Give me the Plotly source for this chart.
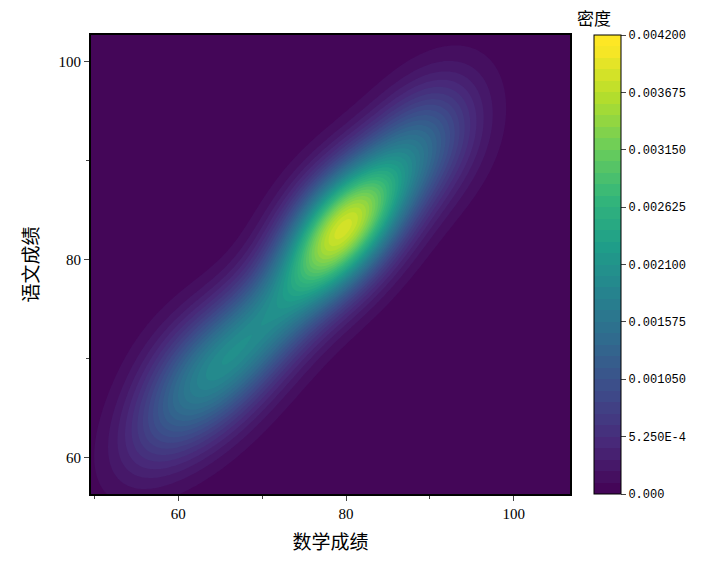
import numpy as np
import plotly.graph_objects as go

# 学生成绩样本（数学, 语文）
math_scores = [58, 60, 62, 63, 65, 66, 67, 68, 69, 70, 72, 73, 74, 75, 76, 77, 78, 78, 79, 80,
               80, 81, 82, 79, 77, 81, 83, 84, 85, 86, 87, 88, 90, 91, 84, 76, 71, 64, 82, 60,
               62, 66, 88, 92, 79, 79, 80, 78, 81, 57]
chinese_scores = [64, 66, 68, 70, 69, 71, 72, 70, 74, 73, 75, 77, 76, 79, 80, 82, 81, 84, 83, 82,
                  85, 84, 86, 80, 85, 81, 87, 88, 86, 89, 91, 90, 92, 94, 84, 78, 72, 67, 83, 70,
                  64, 67, 94, 90, 83, 83, 84, 82, 85, 62]
bandwidth_cov = [[18.0, 8.0], [8.0, 18.0]]

cb_tickvals = [0, 0.000525, 0.00105, 0.001575, 0.0021, 0.002625, 0.00315, 0.003675, 0.0042]
cb_ticktext = ["0.000", "5.250E-4", "0.001050", "0.001575", "0.002100",
               "0.002625", "0.003150", "0.003675", "0.004200"]

# 高斯核密度估计
xs = np.linspace(49.6, 106.7, 200)
ys = np.linspace(56.3, 102.7, 200)
gx, gy = np.meshgrid(xs, ys)
inv = np.linalg.inv(bandwidth_cov)
norm = 1.0 / (2 * np.pi * np.sqrt(np.linalg.det(bandwidth_cov)))
dens = np.zeros_like(gx)
for mx, cy in zip(math_scores, chinese_scores):
    dx, dy = gx - mx, gy - cy
    q = inv[0, 0] * dx * dx + 2 * inv[0, 1] * dx * dy + inv[1, 1] * dy * dy
    dens += norm * np.exp(-0.5 * q)
dens /= len(math_scores)

fig = go.Figure(go.Contour(
    x=xs, y=ys, z=dens,
    colorscale="Viridis", zmin=0, zmax=0.0042,
    autocontour=False,
    contours=dict(start=0, end=0.0042, size=0.000105, coloring="fill"),
    line=dict(width=0),
    colorbar=dict(
        x=1.03, xanchor="left", len=1, y=0.5, ypad=0, thickness=27,
        tickvals=cb_tickvals, ticktext=cb_ticktext, ticks="outside",
        ticklen=5, outlinewidth=1, outlinecolor="black",
        tickfont=dict(family="Liberation Mono", size=12, color="black"),
    ),
))
fig.add_annotation(text="密度", xref="paper", yref="paper", x=1.01, y=1.0, yshift=3,
                   xanchor="left", yanchor="bottom", showarrow=False,
                   font=dict(family="Noto Sans CJK SC", size=17, color="black"))
fig.update_xaxes(range=[49.6, 106.7], tickvals=[60, 80, 100], ticks="outside",
                 minor=dict(dtick=10, ticks="outside", ticklen=3), showgrid=False,
                 showline=True, linecolor="black", linewidth=2, mirror=True,
                 title=dict(text="数学成绩", font=dict(family="Noto Sans CJK SC", size=19)),
                 tickfont=dict(family="Liberation Serif", size=15))
fig.update_yaxes(range=[56.3, 102.7], tickvals=[60, 80, 100], ticks="outside",
                 minor=dict(dtick=10, ticks="outside", ticklen=3), showgrid=False,
                 showline=True, linecolor="black", linewidth=2, mirror=True,
                 title=dict(text="语文成绩", font=dict(family="Noto Sans CJK SC", size=19)),
                 tickfont=dict(family="Liberation Serif", size=15))
fig.update_layout(width=717, height=570, plot_bgcolor="white", paper_bgcolor="white",
                  margin=dict(l=83, r=155, t=27, b=84, autoexpand=False),
                  font=dict(color="black"))
fig.write_html("out.html")
